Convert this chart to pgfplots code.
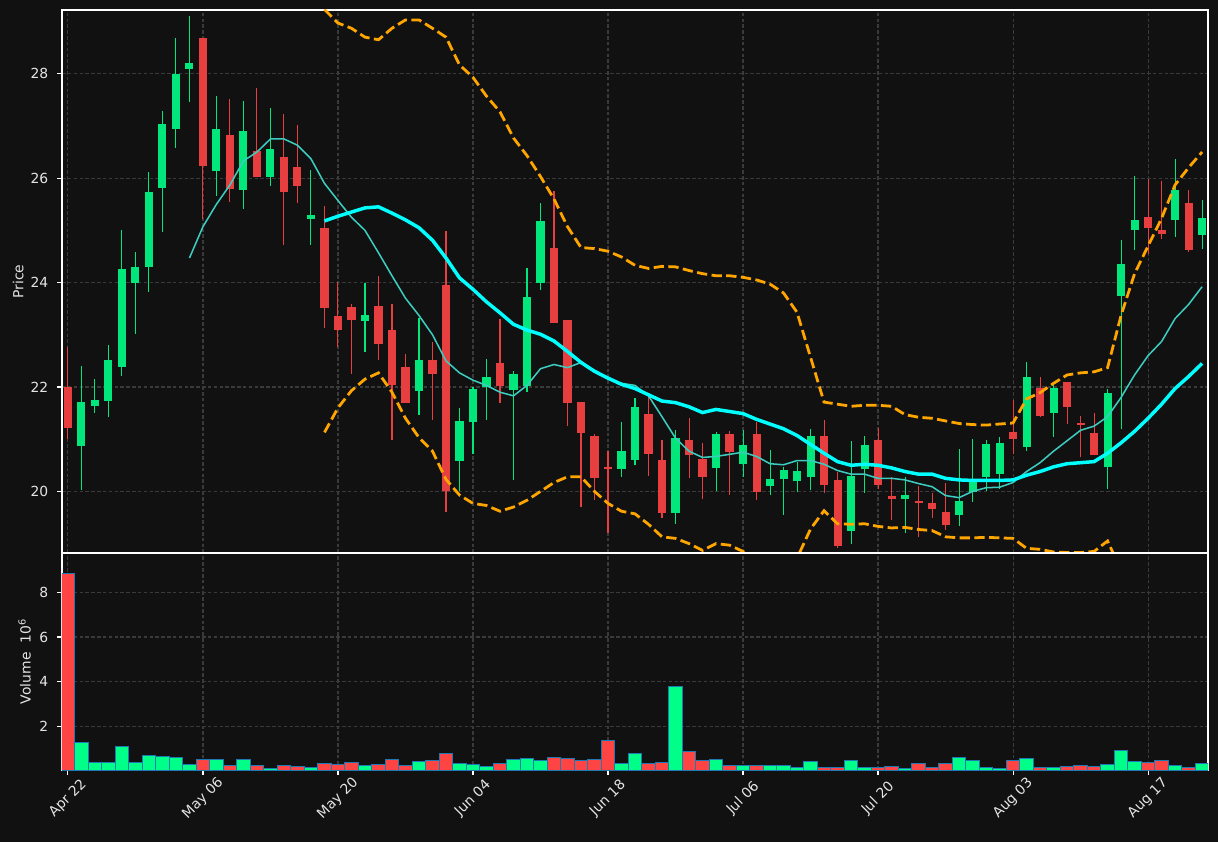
\documentclass[border=0pt]{standalone}
\usepackage{fontspec}
\setmainfont{DejaVu Sans}
\usepackage{pgfplots}
\usepackage{pgfplotstable}
\pgfplotsset{compat=1.18}

\definecolor{bg}{HTML}{111111}
\definecolor{gridc}{HTML}{3A3A3A}
\definecolor{txt}{HTML}{E4E4E4}
\definecolor{upc}{RGB}{2,231,124}
\definecolor{dnc}{RGB}{231,63,63}
\definecolor{vup}{RGB}{0,255,136}
\definecolor{vdn}{RGB}{255,68,68}
\definecolor{vedge}{HTML}{1F77B4}
\definecolor{ma10c}{RGB}{60,205,192}
\definecolor{ma20c}{HTML}{00FFFF}
\definecolor{bbc}{HTML}{FFA500}

% rising days: index, open, high, low, close, volume (millions)
\pgfplotstableread{
i  o     h     l     c     v
1  20.86 22.40 20.02 21.71 1.28
2  21.63 22.15 21.50 21.75 0.37
3  21.74 22.80 21.42 22.52 0.37
4  22.39 25.01 22.21 24.25 1.10
5  24.00 24.59 23.01 24.29 0.37
6  24.29 26.12 23.82 25.74 0.70
7  25.81 27.29 24.97 27.03 0.66
8  26.94 28.69 26.57 27.99 0.61
9  28.09 29.11 27.45 28.20 0.30
11 26.13 27.58 25.66 26.95 0.52
13 25.77 27.48 25.41 26.91 0.52
15 26.02 27.35 25.85 26.55 0.12
18 25.21 26.16 24.72 25.30 0.16
22 23.27 24.00 22.67 23.38 0.25
26 21.93 23.33 21.46 22.52 0.43
29 20.59 21.59 20.00 21.35 0.34
30 21.32 22.00 20.72 21.97 0.30
31 22.00 22.53 21.37 22.19 0.21
33 21.95 22.30 20.22 22.25 0.52
34 22.02 24.28 21.90 23.73 0.57
35 24.00 25.53 23.85 25.17 0.48
41 20.43 21.33 20.28 20.77 0.34
42 20.61 21.78 20.50 21.62 0.79
45 19.59 21.17 19.38 21.02 3.79
48 20.45 21.13 20.00 21.09 0.52
50 20.52 21.17 20.27 20.89 0.25
52 20.10 20.79 19.93 20.23 0.25
53 20.23 20.46 19.55 20.41 0.25
54 20.19 20.57 19.98 20.39 0.16
55 20.27 21.20 20.03 21.06 0.43
58 19.25 20.97 19.00 20.30 0.48
59 20.42 21.06 19.97 20.89 0.16
62 19.86 20.27 19.20 19.93 0.12
66 19.55 20.82 19.33 19.81 0.61
67 19.99 21.00 19.80 20.23 0.48
68 20.27 20.98 20.00 20.90 0.16
69 20.33 21.05 20.05 20.93 0.12
71 20.85 22.47 20.77 22.19 0.57
73 21.50 22.03 21.05 21.98 0.16
77 20.47 21.97 20.05 21.89 0.30
78 23.75 24.82 21.19 24.35 0.93
79 25.00 26.05 24.63 25.19 0.43
82 25.19 26.37 24.87 25.78 0.25
84 24.91 25.58 24.65 25.23 0.34
}\upbars

% falling days
\pgfplotstableread{
i  o     h     l     c     v
0  22.00 22.77 21.00 21.22 8.85
10 28.69 28.69 25.21 26.23 0.52
12 26.83 27.51 25.55 25.79 0.25
14 26.51 27.73 26.03 26.03 0.25
16 26.41 27.23 24.72 25.73 0.25
17 26.22 27.02 25.53 25.85 0.21
19 25.05 25.47 23.12 23.51 0.34
20 23.35 24.01 22.77 23.10 0.30
21 23.54 23.58 22.25 23.29 0.39
23 23.55 24.13 22.51 22.83 0.30
24 23.09 23.58 20.98 22.03 0.52
25 22.39 22.63 21.70 21.70 0.25
27 22.52 22.87 21.37 22.24 0.48
28 23.96 24.99 19.60 20.00 0.79
32 22.45 23.30 21.70 22.01 0.34
36 24.67 25.75 23.23 23.23 0.61
37 23.29 23.29 21.25 21.70 0.57
38 21.71 21.71 19.70 21.11 0.48
39 21.07 21.09 19.83 20.25 0.52
40 20.46 20.77 19.20 20.43 1.37
43 21.49 21.83 20.30 20.71 0.34
44 20.60 20.99 19.50 19.59 0.39
46 20.99 21.40 20.25 20.69 0.88
47 20.63 20.93 19.85 20.28 0.48
49 21.09 21.15 19.93 20.75 0.25
51 21.10 21.33 19.83 19.98 0.25
56 21.06 21.37 19.97 20.13 0.16
57 20.22 20.37 18.91 18.95 0.16
60 20.99 21.21 20.05 20.13 0.16
61 19.91 20.27 19.45 19.86 0.21
63 19.81 20.10 19.13 19.77 0.34
64 19.77 19.97 19.50 19.67 0.16
65 19.61 20.17 19.27 19.36 0.34
70 21.13 21.75 20.71 21.01 0.48
72 21.98 22.20 21.42 21.45 0.16
74 22.10 22.10 21.29 21.61 0.21
75 21.31 21.45 20.65 21.28 0.25
76 21.12 21.50 20.69 20.69 0.21
80 25.25 25.99 24.55 25.04 0.39
81 25.01 25.95 24.83 24.93 0.48
83 25.53 25.77 24.59 24.63 0.16
}\downbars

% short moving average
\pgfplotstableread{
i  m
9  24.47
10 25.07
11 25.50
12 25.87
13 26.33
14 26.50
15 26.75
16 26.75
17 26.63
18 26.37
19 25.90
20 25.57
21 25.25
22 25.00
23 24.57
24 24.13
25 23.70
26 23.37
27 23.00
28 22.50
29 22.27
30 22.13
31 22.03
32 21.90
33 21.83
34 22.03
35 22.35
36 22.43
37 22.37
38 22.47
39 22.30
40 22.15
41 22.07
42 22.03
43 21.83
44 21.43
45 21.02
46 20.77
47 20.65
48 20.67
49 20.71
50 20.75
51 20.67
52 20.53
53 20.51
54 20.59
55 20.59
56 20.52
57 20.40
58 20.33
59 20.33
60 20.25
61 20.25
62 20.22
63 20.15
64 20.09
65 19.92
66 19.88
67 20.00
68 20.07
69 20.08
70 20.17
71 20.38
72 20.55
73 20.77
74 20.97
75 21.17
76 21.25
77 21.43
78 21.80
79 22.23
80 22.60
81 22.87
82 23.31
83 23.58
84 23.92
}\maten

% long moving average with upper and lower bands
\pgfplotstableread{
i  m     u     l
19 25.18 29.23 21.13
20 25.27 28.97 21.60
21 25.35 28.87 21.93
22 25.43 28.70 22.15
23 25.45 28.65 22.27
24 25.33 28.87 21.90
25 25.20 29.03 21.40
26 25.05 29.03 21.03
27 24.81 28.87 20.77
28 24.47 28.70 20.23
29 24.09 28.17 19.93
30 23.87 27.93 19.77
31 23.63 27.57 19.73
32 23.42 27.27 19.62
33 23.20 26.77 19.70
34 23.09 26.43 19.83
35 23.01 26.03 20.00
36 22.88 25.60 20.17
37 22.68 25.07 20.28
38 22.47 24.67 20.28
39 22.30 24.65 20.00
40 22.17 24.60 19.77
41 22.05 24.49 19.62
42 21.97 24.33 19.57
43 21.85 24.27 19.37
44 21.73 24.31 19.13
45 21.70 24.30 19.10
46 21.62 24.23 19.00
47 21.51 24.17 18.87
48 21.57 24.13 19.00
49 21.53 24.13 18.97
50 21.49 24.10 18.85
51 21.38 24.05 18.70
52 21.29 23.97 18.61
53 21.20 23.80 18.60
54 21.07 23.43 18.72
55 20.90 22.57 19.28
56 20.73 21.71 19.63
57 20.57 21.67 19.38
58 20.50 21.63 19.37
59 20.52 21.65 19.38
60 20.50 21.65 19.33
61 20.45 21.63 19.30
62 20.38 21.47 19.31
63 20.33 21.42 19.27
64 20.33 21.40 19.25
65 20.25 21.35 19.13
66 20.22 21.30 19.11
67 20.21 21.28 19.11
68 20.21 21.27 19.12
69 20.21 21.29 19.11
70 20.22 21.31 19.10
71 20.31 21.77 18.91
72 20.38 21.89 18.89
73 20.47 22.07 18.84
74 20.53 22.23 18.83
75 20.55 22.27 18.83
76 20.57 22.29 18.85
77 20.73 22.37 19.05
78 20.93 23.37 18.49
79 21.15 24.17 18.13
80 21.40 24.70 18.10
81 21.67 25.23 18.11
82 21.97 25.87 18.07
83 22.20 26.20 18.20
84 22.45 26.50 18.40
}\matwenty

\pgfplotsset{
  panel/.style={
    scale only axis, width=825.12pt, xmin=-0.44, xmax=84.44,
    axis line style={white, line width=0.8pt},
    xtick={0,10,...,80}, grid=major,
    major grid style={gridc, line width=0.8pt, dash pattern=on 2.6pt off 1.6pt},
    tick align=outside, xtick pos=bottom, ytick pos=left,
    major tick length=3.5pt, tick style={white, line width=0.8pt},
    ticklabel style={text=txt, font=\fontsize{10}{12}\selectfont},
    yticklabel style={inner sep=0pt, anchor=east, xshift=-6.2pt},
    /pgf/number format/assume math mode=true,
    label style={text=txt, font=\fontsize{10}{12}\selectfont},
  },
  wick/.style={draw=none, mark=none, forget plot,
    error bars/.cd, y dir=plus, y explicit, error mark=none,
    error bar style={line width=0.75pt, draw=#1}},
  body/.style={draw=none, mark=none, forget plot,
    error bars/.cd, y dir=plus, y explicit, error mark=none,
    error bar style={line width=5.8pt, draw=#1}},
}

\begin{document}
\begin{tikzpicture}
\fill[bg] (0,0) rectangle (876.96pt,606.24pt);

\begin{axis}[panel, at={(44.64pt,208.08pt)}, anchor=south west, height=390.96pt,
  ymin=18.82, ymax=29.22, ytick={20,22,...,28},
  xticklabels={}, xtick style={draw=none},
  ylabel={Price}, ylabel style={at={(axis description cs:-0.0383,0.5)}, anchor=center}]
\addplot[wick=upc] table[x=i, y=l, y error expr=\thisrow{h}-\thisrow{l}] {\upbars};
\addplot[wick=dnc] table[x=i, y=l, y error expr=\thisrow{h}-\thisrow{l}] {\downbars};
\addplot[body=upc] table[x=i, y=o, y error expr=\thisrow{c}-\thisrow{o}] {\upbars};
\addplot[body=dnc] table[x=i, y=c, y error expr=\thisrow{o}-\thisrow{c}] {\downbars};
\addplot[ma10c, line width=1.1pt] table[x=i, y=m] {\maten};
\addplot[ma20c, line width=2.5pt] table[x=i, y=m] {\matwenty};
\addplot[bbc, line width=2pt, dash pattern=on 7.4pt off 3.2pt] table[x=i, y=u] {\matwenty};
\addplot[bbc, line width=2pt, dash pattern=on 7.4pt off 3.2pt] table[x=i, y=l] {\matwenty};
\end{axis}

\begin{axis}[panel, at={(44.64pt,51.84pt)}, anchor=south west, height=156.24pt,
  ymin=0.04, ymax=9.76, ytick={2,4,6,8},
  xticklabels={Apr 22,May 06,May 20,Jun 04,Jun 18,Jul 06,Jul 20,Aug 03,Aug 17},
  xticklabel style={yshift=-17pt, rotate=45, anchor=center},
  ylabel={Volume\ \ 10\textsuperscript{6}},
  ylabel style={at={(axis description cs:-0.0327,0.5)}, anchor=center}]
\addplot[ybar, bar width=1, bar shift=0pt, fill=vup, draw=vedge, line width=0.7pt]
  table[x=i, y=v] {\upbars};
\addplot[ybar, bar width=1, bar shift=0pt, fill=vdn, draw=vedge, line width=0.7pt]
  table[x=i, y=v] {\downbars};
\end{axis}

\pgfresetboundingbox
\useasboundingbox (0,0) rectangle (876.96pt,606.24pt);
\end{tikzpicture}
\end{document}
